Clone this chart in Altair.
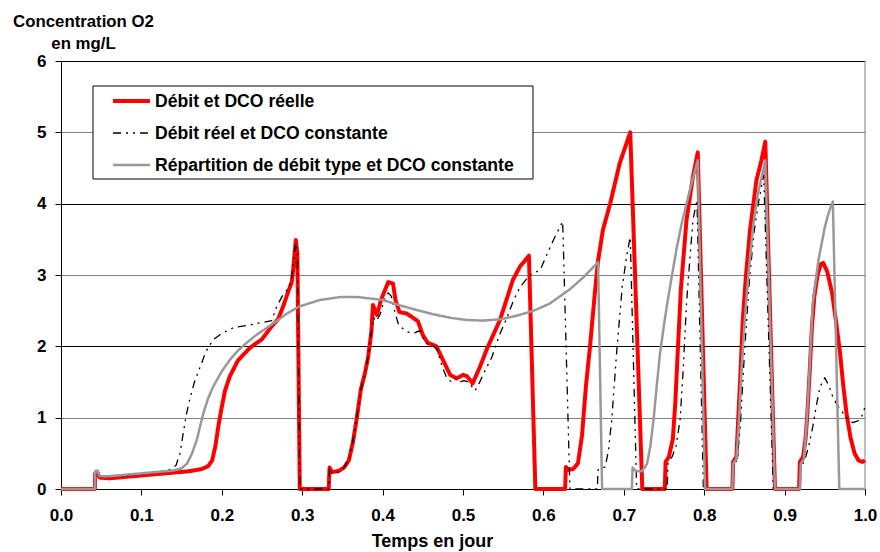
import altair as alt
import pandas as pd

FONT = "Liberation Sans"

SERIES = [
    "Débit et DCO réelle",
    "Débit réel et DCO constante",
    "Répartition de débit type et DCO constante",
]
COLORS = ["#ff0000", "#000000", "#999999"]
DASHES = [[1, 0], [8, 5, 2, 5, 2, 5], [1, 0]]
WIDTHS = [4, 1.3, 2.5]

# Série 1 : débit et DCO réels
reel_t = [0.0, 0.042, 0.0425, 0.045, 0.048, 0.06, 0.08, 0.10, 0.12, 0.14, 0.16, 0.175,
          0.183, 0.188, 0.192, 0.196, 0.200, 0.204, 0.210, 0.220, 0.235, 0.250, 0.262,
          0.270, 0.276, 0.283, 0.287, 0.289, 0.292, 0.294, 0.297,
          0.333, 0.334, 0.337, 0.345, 0.352, 0.358, 0.363, 0.368, 0.373, 0.378, 0.382,
          0.386, 0.388, 0.393, 0.398, 0.407, 0.413, 0.416, 0.421, 0.430, 0.438, 0.444,
          0.450, 0.456, 0.467, 0.475, 0.484, 0.492, 0.500, 0.505, 0.512, 0.521, 0.530,
          0.546, 0.562, 0.571, 0.582, 0.590,
          0.627, 0.628, 0.631, 0.637, 0.643, 0.648, 0.653, 0.658, 0.664, 0.668, 0.674,
          0.683, 0.695, 0.708, 0.723,
          0.751, 0.752, 0.756, 0.761, 0.764, 0.767, 0.771, 0.778, 0.786, 0.792, 0.803,
          0.835, 0.836, 0.840, 0.842, 0.845, 0.848, 0.852, 0.857, 0.865, 0.871, 0.876, 0.888,
          0.918, 0.919, 0.923, 0.926, 0.928, 0.931, 0.934, 0.937, 0.941, 0.945, 0.948,
          0.953, 0.959, 0.964, 0.969, 0.973, 0.977, 0.982, 0.987, 0.992, 0.997, 1.0]
reel_v = [0, 0, 0.22, 0.24, 0.16, 0.15, 0.17, 0.19, 0.21, 0.23, 0.25, 0.28,
          0.32, 0.40, 0.60, 0.90, 1.15, 1.38, 1.58, 1.80, 1.98, 2.10, 2.28,
          2.38, 2.55, 2.78, 2.90, 3.10, 3.49, 3.30, 0,
          0, 0.30, 0.24, 0.25, 0.30, 0.40, 0.65, 1.00, 1.40, 1.62, 1.85,
          2.20, 2.58, 2.44, 2.65, 2.90, 2.88, 2.65, 2.48, 2.46, 2.40, 2.35,
          2.16, 2.05, 2.00, 1.81, 1.60, 1.55, 1.60, 1.58, 1.48, 1.71, 1.97,
          2.37, 2.93, 3.12, 3.27, 0,
          0, 0.31, 0.27, 0.28, 0.36, 0.75, 1.45, 2.00, 2.75, 3.20, 3.63,
          4.00, 4.57, 5.00, 0,
          0, 0.38, 0.45, 0.70, 1.20, 1.90, 2.80, 3.77, 4.38, 4.72, 0,
          0, 0.38, 0.45, 0.90, 1.60, 2.37, 3.00, 3.63, 4.33, 4.60, 4.87, 0,
          0, 0.38, 0.45, 0.70, 1.00, 1.60, 2.27, 2.70, 3.00, 3.15, 3.17,
          3.05, 2.75, 2.35, 1.90, 1.45, 1.06, 0.72, 0.50, 0.40, 0.38, 0.40]

# Série 2 : débit réel, DCO constante
cst_t = [0.0, 0.042, 0.0425, 0.045, 0.048, 0.06, 0.08, 0.10, 0.12, 0.135, 0.143,
         0.148, 0.152, 0.156, 0.160, 0.166, 0.173, 0.180, 0.189, 0.200, 0.214, 0.239,
         0.262, 0.268, 0.275, 0.283, 0.287, 0.289, 0.292, 0.294, 0.297,
         0.333, 0.334, 0.337, 0.345, 0.352, 0.358, 0.363, 0.368, 0.373, 0.378, 0.382,
         0.386, 0.389, 0.392, 0.397, 0.402, 0.407, 0.411, 0.416, 0.420, 0.426, 0.432,
         0.438, 0.442, 0.446, 0.450, 0.456, 0.462, 0.468, 0.474, 0.480, 0.486, 0.491,
         0.496, 0.501, 0.507, 0.512, 0.515, 0.520, 0.527, 0.536, 0.545, 0.555, 0.563,
         0.571, 0.583, 0.596, 0.606, 0.615, 0.624, 0.633,
         0.667, 0.668, 0.677, 0.681, 0.685, 0.691, 0.698, 0.704, 0.708, 0.716,
         0.754, 0.755, 0.760, 0.765, 0.770, 0.774, 0.778, 0.782, 0.786, 0.791, 0.799,
         0.835, 0.836, 0.841, 0.845, 0.850, 0.856, 0.862, 0.868, 0.874, 0.886,
         0.919, 0.920, 0.925, 0.930, 0.935, 0.940, 0.944, 0.950, 0.955, 0.960, 0.967,
         0.973, 0.979, 0.985, 0.990, 0.994, 0.997, 1.0]
cst_v = [0, 0, 0.22, 0.25, 0.17, 0.17, 0.19, 0.21, 0.24, 0.27, 0.33,
         0.50, 0.78, 1.05, 1.25, 1.50, 1.71, 1.92, 2.09, 2.18, 2.26, 2.31,
         2.36, 2.55, 2.70, 2.82, 2.95, 3.20, 3.45, 3.30, 0,
         0, 0.30, 0.22, 0.24, 0.30, 0.42, 0.68, 1.02, 1.40, 1.62, 1.85,
         2.20, 2.40, 2.35, 2.45, 2.65, 2.75, 2.70, 2.45, 2.30, 2.24, 2.20,
         2.18, 2.20, 2.22, 2.12, 2.03, 2.02, 1.95, 1.72, 1.55, 1.50, 1.55,
         1.50, 1.52, 1.50, 1.42, 1.38, 1.48, 1.65, 1.85, 2.15, 2.41, 2.65,
         2.83, 3.00, 3.07, 3.33, 3.55, 3.75, 0,
         0, 0.27, 0.31, 0.55, 0.97, 1.90, 2.83, 3.30, 3.53, 0,
         0, 0.38, 0.45, 0.60, 0.97, 1.70, 2.60, 3.20, 3.77, 4.05, 0,
         0, 0.35, 0.40, 0.90, 1.90, 2.90, 3.60, 4.05, 4.40, 0,
         0, 0.30, 0.40, 0.60, 0.87, 1.20, 1.43, 1.56, 1.45, 1.29, 1.15,
         1.06, 0.97, 0.93, 0.95, 0.97, 1.05, 1.15]

# Série 3 : répartition de débit type, DCO constante
type_t = [0.0, 0.042, 0.0425, 0.045, 0.048, 0.06, 0.08, 0.10, 0.12, 0.14, 0.150,
          0.157, 0.163, 0.169, 0.173, 0.177, 0.183, 0.189, 0.200, 0.210, 0.220, 0.231,
          0.243, 0.256, 0.270, 0.281, 0.297, 0.322, 0.347, 0.370, 0.400, 0.420, 0.442,
          0.463, 0.484, 0.505, 0.525, 0.547, 0.567, 0.588, 0.608, 0.633, 0.650, 0.668, 0.673,
          0.710, 0.711, 0.715, 0.722, 0.726, 0.729, 0.733, 0.737, 0.741, 0.745, 0.750,
          0.754, 0.760, 0.766, 0.772, 0.778, 0.785, 0.792, 0.801,
          0.835, 0.836, 0.840, 0.843, 0.846, 0.850, 0.855, 0.861, 0.867, 0.872, 0.876, 0.888,
          0.919, 0.920, 0.924, 0.927, 0.930, 0.935, 0.942, 0.950, 0.955, 0.960, 0.968, 1.0]
type_v = [0, 0, 0.25, 0.26, 0.18, 0.18, 0.20, 0.22, 0.24, 0.26, 0.29,
          0.36, 0.50, 0.69, 0.88, 1.06, 1.27, 1.43, 1.65, 1.81, 1.94, 2.05,
          2.16, 2.26, 2.37, 2.46, 2.56, 2.65, 2.69, 2.69, 2.65, 2.58, 2.51,
          2.45, 2.40, 2.37, 2.36, 2.38, 2.43, 2.50, 2.60, 2.80, 2.97, 3.18, 0,
          0, 0.30, 0.25, 0.25, 0.30, 0.36, 0.60, 0.97, 1.45, 1.90, 2.30,
          2.60, 3.00, 3.39, 3.72, 4.00, 4.32, 4.61, 0,
          0, 0.35, 0.42, 0.90, 1.60, 2.30, 3.00, 3.70, 4.15, 4.40, 4.61, 0,
          0, 0.35, 0.42, 0.85, 1.43, 2.60, 3.20, 3.67, 3.88, 4.03, 0, 0]

X_TICKS = [0.0, 0.1, 0.2, 0.3, 0.4, 0.5, 0.6, 0.7, 0.8, 0.9, 1.0]
Y_TICKS = [0, 1, 2, 3, 4, 5, 6]

frames = []
for name, t, v in zip(SERIES, [reel_t, cst_t, type_t], [reel_v, cst_v, type_v]):
    frames.append(pd.DataFrame({"t": t, "v": v, "serie": name, "ordre": range(len(t))}))
data = pd.concat(frames, ignore_index=True)

x_enc = alt.X(
    "t:Q",
    scale=alt.Scale(domain=[0, 1], nice=False),
    axis=alt.Axis(
        values=X_TICKS, format=".1f", grid=False,
        title="Temps en jour", titleX=371, titleY=57, titleAlign="center",
        titleBaseline="alphabetic", titleAnchor="start", titleFontSize=18,
        labelPadding=12, tickSize=6, labelFlush=False,
    ),
)
y_enc = alt.Y(
    "v:Q",
    scale=alt.Scale(domain=[0, 6], nice=False),
    axis=alt.Axis(
        values=Y_TICKS, format="d", grid=True,
        gridColor={"condition": {"test": "datum.value % 2 === 0", "value": "#000000"},
                   "value": "#808080"},
        title=["Concentration O2", "en mg/L"], titleAngle=0,
        titleX=22, titleY=-35, titleAlign="center", titleBaseline="alphabetic",
        titleAnchor="start", titleLineHeight=22, titleFontSize=16.8,
        labelPadding=9, tickSize=6,
    ),
)


def series_layer(i):
    return alt.Chart(data).transform_filter(
        alt.datum.serie == SERIES[i]
    ).mark_line(
        color=COLORS[i], strokeDash=DASHES[i], strokeWidth=WIDTHS[i],
        strokeJoin="round", strokeCap="butt",
    ).encode(x=x_enc, y=y_enc, order="ordre:Q")


# Cadre de la légende et ses trois entrées
legend_box = alt.Chart(pd.DataFrame({"k": [0]})).mark_rect(
    fill="white", stroke="black", strokeWidth=1
).encode(x=alt.value(32), x2=alt.value(472), y=alt.value(25), y2=alt.value(118))


def legend_entry(i):
    row_y = 40 + 32 * i
    src = pd.DataFrame({"serie": [SERIES[i]]})
    swatch = alt.Chart(src).mark_rule(
        color=COLORS[i], strokeDash=DASHES[i], strokeWidth=WIDTHS[i], strokeCap="butt"
    ).encode(x=alt.value(52), x2=alt.value(89), y=alt.value(row_y))
    label = alt.Chart(src).mark_text(
        align="left", baseline="middle", font=FONT, fontSize=17.6, fontWeight="bold",
        color="black",
    ).encode(x=alt.value(94), y=alt.value(row_y + 1), text="serie:N")
    return swatch + label


right_edge = alt.Chart(pd.DataFrame({"t": [1.0]})).mark_rule(color="#808080", strokeWidth=1).encode(
    x=alt.X("t:Q")
)

layers = [right_edge] + [series_layer(i) for i in range(3)] + [legend_box]
layers += [legend_entry(i) for i in range(3)]

chart = alt.layer(*layers).properties(
    width=804,
    height=428,
    autosize=alt.AutoSizeParams(type="none"),
    padding={"left": 61, "top": 61, "right": 15, "bottom": 63},
    background="white",
).configure_view(
    stroke=None
).configure_axis(
    labelFont=FONT, labelFontSize=17, labelFontWeight="bold", labelColor="black",
    titleFont=FONT, titleFontSize=16, titleFontWeight="bold", titleColor="black",
    domainColor="black", domainWidth=1, tickColor="black", tickWidth=1, gridWidth=1,
)

chart.save("out.html", embed_options={"renderer": "svg", "actions": False})
